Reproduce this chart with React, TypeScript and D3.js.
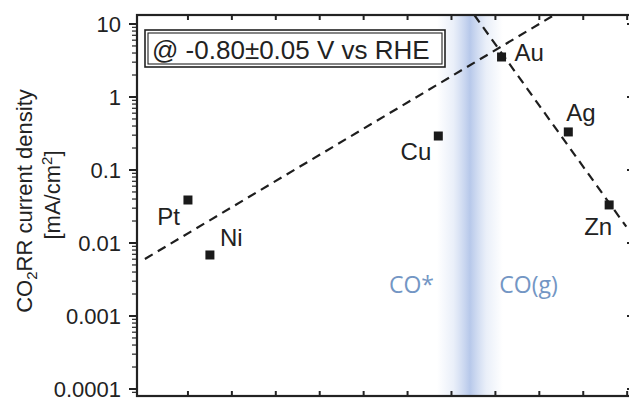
import React from 'react';
import * as d3 from 'd3';

// CO2 reduction activity vs. CO binding descriptor (volcano-type plot)
const metals = ['Pt', 'Ni', 'Cu', 'Au', 'Ag', 'Zn'];
const bindingEnergy = [-1.0, -0.95, -0.43, -0.286, -0.134, -0.041];
const currentDensity = [0.0388, 0.00685, 0.292, 3.53, 0.332, 0.0332];

// dashed trend lines (strong-binding and weak-binding branches)
const strongBranchX = [-1.098, -0.166];
const strongBranchY = [0.00604, 13.28];
const weakBranchX = [-0.348, -0.002];
const weakBranchY = [13.28, 0.0167];

const xTickValues = [-1.0, -0.9, -0.8, -0.7, -0.6, -0.5, -0.4, -0.3, -0.2, -0.1, 0.0];
const yTickValues = [10, 1, 0.1, 0.01, 0.001, 0.0001];
const yTickLabels = ['10', '1', '0.1', '0.01', '0.001', '0.0001'];

const transitionCenter = -0.358;
const transitionHalfWidth = 0.075;

const regionLabels = ['CO*', 'CO(g)'];
const regionLabelX = [-0.491, -0.2246];

const potentialNote = '@ -0.80±0.05 V vs RHE';

// label placement relative to each marker (px)
const labelOffset: Record<string, [number, number, string]> = {
  Pt: [-8, 25, 'end'],
  Ni: [10, -9, 'start'],
  Cu: [-7, 24, 'end'],
  Au: [13, 4, 'start'],
  Ag: [-2, -11, 'start'],
  Zn: [3, 30, 'end'],
};

const W = 629;
const H = 398;
const plot = { left: 137, right: 632, top: 15, bottom: 396 };
const font = 'Liberation Sans, Arial, sans-serif';
const fs = 22;
const labelFs = 24;

export default function App() {
  const x = d3.scaleLinear().domain([-1.116, 0.011]).range([plot.left, plot.right]);
  const y = d3
    .scaleLog()
    .domain([Math.pow(10, -4.096), Math.pow(10, 1.123)])
    .range([plot.bottom, plot.top]);

  const line = d3
    .line<[number, number]>()
    .x((d) => x(d[0]))
    .y((d) => y(d[1]));

  const strong: [number, number][] = strongBranchX.map((v, i) => [v, strongBranchY[i]]);
  const weak: [number, number][] = weakBranchX.map((v, i) => [v, weakBranchY[i]]);

  // minor log ticks
  const minor: number[] = [];
  for (let e = -5; e <= 1; e++) {
    for (let m = 2; m <= 9; m++) {
      const v = m * Math.pow(10, e);
      const py = y(v);
      if (py >= plot.top && py <= plot.bottom) minor.push(v);
    }
  }

  const bandL = x(transitionCenter - transitionHalfWidth);
  const bandR = x(transitionCenter + transitionHalfWidth);
  const bandC = x(transitionCenter);
  const cPct = ((bandC - bandL) / (bandR - bandL)) * 100;

  const sq = 9;

  return (
    <svg
      width={W}
      height={H}
      style={{ position: 'absolute', left: 0, top: 0, background: '#fff' }}
      fontFamily={font}
    >
      <defs>
        <linearGradient id="band" x1="0" x2="1" y1="0" y2="0">
          <stop offset="0%" stopColor="#c3d2ee" stopOpacity={0} />
          <stop offset={`${cPct * 0.5}%`} stopColor="#c3d2ee" stopOpacity={0.35} />
          <stop offset={`${cPct}%`} stopColor="#b7c8ea" stopOpacity={1} />
          <stop offset={`${cPct + (100 - cPct) * 0.5}%`} stopColor="#c3d2ee" stopOpacity={0.35} />
          <stop offset="100%" stopColor="#c3d2ee" stopOpacity={0} />
        </linearGradient>
        <clipPath id="plotClip">
          <rect x={plot.left} y={plot.top} width={plot.right - plot.left} height={plot.bottom - plot.top} />
        </clipPath>
      </defs>

      {/* transition region */}
      <rect x={bandL} y={plot.top} width={bandR - bandL} height={plot.bottom - plot.top} fill="url(#band)" />

      {/* region labels */}
      {regionLabels.map((t, i) => (
        <text
          key={t}
          x={x(regionLabelX[i])}
          y={293}
          textAnchor="middle"
          fontFamily="Open Sans, sans-serif"
          fontSize={23}
          fill="#7396c4"
        >
          {t}
        </text>
      ))}

      {/* trend lines */}
      <g clipPath="url(#plotClip)">
        {[strong, weak].map((d, i) => (
          <path
            key={i}
            d={line(d) || ''}
            fill="none"
            stroke="#1e1e1e"
            strokeWidth={2.2}
            strokeDasharray="9,6"
          />
        ))}
      </g>

      {/* markers */}
      {metals.map((m, i) => (
        <rect
          key={m}
          x={x(bindingEnergy[i]) - sq / 2}
          y={y(currentDensity[i]) - sq / 2}
          width={sq}
          height={sq}
          fill="#1a1a1a"
        />
      ))}
      {metals.map((m, i) => {
        const [dx, dy, anchor] = labelOffset[m];
        return (
          <text
            key={m}
            x={x(bindingEnergy[i]) + dx}
            y={y(currentDensity[i]) + dy}
            textAnchor={anchor}
            fontSize={labelFs}
            fill="#222"
          >
            {m}
          </text>
        );
      })}

      {/* frame */}
      <rect
        x={plot.left}
        y={plot.top}
        width={plot.right - plot.left}
        height={plot.bottom - plot.top}
        fill="none"
        stroke="#222"
        strokeWidth={2.2}
      />

      {/* top and bottom ticks, inward */}
      {xTickValues.map((v) => (
        <g key={v}>
          <line x1={x(v)} x2={x(v)} y1={plot.top} y2={plot.top + 5} stroke="#222" strokeWidth={2} />
          <line x1={x(v)} x2={x(v)} y1={plot.bottom} y2={plot.bottom - 5} stroke="#222" strokeWidth={2} />
        </g>
      ))}

      {/* left axis ticks outward, right axis ticks inward */}
      {yTickValues.map((v, i) => (
        <g key={v}>
          <line x1={plot.left - 8} x2={plot.left} y1={y(v)} y2={y(v)} stroke="#222" strokeWidth={2} />
          <line x1={plot.right - 5} x2={plot.right} y1={y(v)} y2={y(v)} stroke="#222" strokeWidth={2} />
          <text
            x={plot.left - 16}
            y={y(v)}
            dy="0.36em"
            textAnchor="end"
            fontSize={fs}
            fill="#222"
          >
            {yTickLabels[i]}
          </text>
        </g>
      ))}
      {minor.map((v) => (
        <line key={v} x1={plot.left - 5} x2={plot.left} y1={y(v)} y2={y(v)} stroke="#222" strokeWidth={1.2} />
      ))}

      {/* axis title */}
      <text transform={`translate(32,201) rotate(-90)`} textAnchor="middle" fontSize={fs} fill="#222">
        CO<tspan dy={5} fontSize={15}>2</tspan>
        <tspan dy={-5}>RR current density</tspan>
      </text>
      <text transform={`translate(60,195) rotate(-90)`} textAnchor="middle" fontSize={fs} fill="#222">
        [mA/cm<tspan dy={-8} fontSize={15}>2</tspan>
        <tspan dy={8}>]</tspan>
      </text>

      {/* potential annotation */}
      <rect x={145} y={30} width={300} height={37} fill="#fff" stroke="#222" strokeWidth={1.6} />
      <rect x={148} y={33} width={294} height={31} fill="none" stroke="#222" strokeWidth={1.1} />
      <text x={152} y={59} fontSize={26} fill="#222">
        {potentialNote}
      </text>
    </svg>
  );
}
